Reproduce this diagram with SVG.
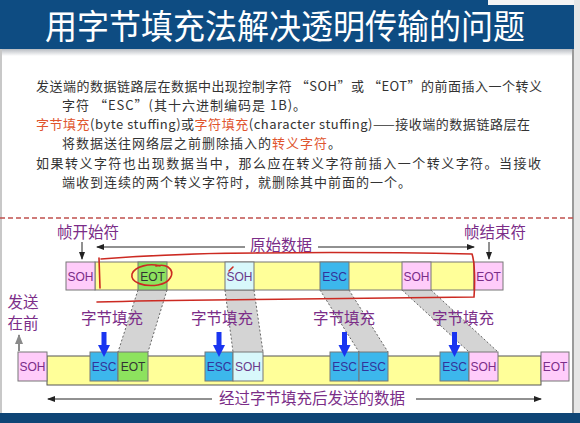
<svg xmlns="http://www.w3.org/2000/svg" width="580" height="423" viewBox="0 0 580 423">
<defs>
<linearGradient id="shadow" x1="0" y1="0" x2="0" y2="1">
<stop offset="0" stop-color="#b8bcc2"/>
<stop offset="1" stop-color="#ffffff"/>
</linearGradient>
<marker id="ah" markerWidth="8" markerHeight="6" refX="7" refY="3" orient="auto" markerUnits="userSpaceOnUse">
<path d="M0,0 L8,3 L0,6 Z" fill="#222"/>
</marker>
<marker id="ahg" markerWidth="10" markerHeight="8" refX="9" refY="4" orient="auto" markerUnits="userSpaceOnUse">
<path d="M0,0 L10,4 L0,8 Z" fill="#8a8a8a"/>
</marker>
</defs>
<style>
.cn{font-family:"Noto Sans CJK SC","Noto Sans",sans-serif}
.para{font-size:13px;fill:#333}
.hl{fill:#e0552e}
.lbl{font-family:"Noto Sans CJK SC",sans-serif;font-size:15.5px;fill:#7b2d88}
.bx{stroke:#777;stroke-width:1}
.bt{font-family:"Liberation Sans",Arial,sans-serif;font-size:12px;text-anchor:middle}
.pink{fill:#ffccfa}
.yel{fill:#ffff99}
.grn{fill:#8de25e}
.esc{fill:#3cb7ec}
.cyan{fill:#d8f8fb}
.band{fill:#d4d4d4}
.dot{stroke:#666;stroke-width:1;stroke-dasharray:2 2;fill:none}
.thin{stroke:#222;stroke-width:1;fill:none}
.red{stroke:#cc2a22;stroke-width:1.6;fill:none;stroke-linecap:round}
.blue{fill:#1a35f0}
</style>

<!-- slide background -->
<rect x="0" y="0" width="580" height="423" fill="#ffffff"/>
<rect x="0" y="0" width="580" height="49" fill="#0e4c82"/>
<rect x="0" y="49" width="580" height="7" fill="url(#shadow)"/>
<rect x="488" y="0" width="92" height="5" fill="#f4f4f4"/>
<rect x="0" y="413" width="580" height="10" fill="#0e4575"/>
<rect x="0" y="49" width="2" height="364" fill="#c8c8c8"/>
<rect x="572" y="49" width="2" height="364" fill="#9a9a9a"/>
<rect x="574" y="0" width="6" height="413" fill="#e6e6e6"/>

<g id="title">
<text x="285" y="39" text-anchor="middle" class="cn" font-size="34" fill="#ffffff" textLength="480" lengthAdjust="spacingAndGlyphs">用字节填充法解决透明传输的问题</text>
</g>

<g id="paragraphs" class="cn para">
<text x="36" y="90.5" textLength="506" lengthAdjust="spacing">发送端的数据链路层在数据中出现控制字符 “SOH”或 “EOT”的前面插入一个转义</text>
<text x="62" y="109.5" letter-spacing="1">字符 “ESC”(其十六进制编码是 1B)。</text>
<text x="36" y="128.5" textLength="494" lengthAdjust="spacing"><tspan class="hl">字节填充</tspan>(byte stuffing)或<tspan class="hl">字符填充</tspan>(character stuffing)——接收端的数据链路层在</text>
<text x="62" y="147.5" letter-spacing="1">将数据送往网络层之前删除插入的<tspan class="hl">转义字符</tspan>。</text>
<text x="36" y="167.5" textLength="505" lengthAdjust="spacing">如果转义字符也出现数据当中，那么应在转义字符前插入一个转义字符。当接收</text>
<text x="62" y="186.5" letter-spacing="1">端收到连续的两个转义字符时，就删除其中前面的一个。</text>
</g>

<line x1="0" y1="218" x2="574" y2="218" stroke="#c0504d" stroke-width="1.3" stroke-dasharray="5 3"/>

<!-- connectors: gray bands, label arrows -->
<g id="connectors">
<polygon class="band" points="138,290 167,290 148,352 118,352"/>
<line class="dot" x1="138" y1="290" x2="118" y2="352"/>
<line class="dot" x1="167" y1="290" x2="148" y2="352"/>
<polygon class="band" points="225,290 254,290 263,352 233,352"/>
<line class="dot" x1="225" y1="290" x2="233" y2="352"/>
<line class="dot" x1="254" y1="290" x2="263" y2="352"/>
<polygon class="band" points="320,290 349,290 388,352 359,352"/>
<line class="dot" x1="320" y1="290" x2="359" y2="352"/>
<line class="dot" x1="349" y1="290" x2="388" y2="352"/>
<polygon class="band" points="402,290 431,290 498,352 469,352"/>
<line class="dot" x1="402" y1="290" x2="469" y2="352"/>
<line class="dot" x1="431" y1="290" x2="498" y2="352"/>

<line class="thin" x1="82" y1="242" x2="82" y2="259" marker-end="url(#ah)"/>
<line class="thin" x1="489" y1="242" x2="489" y2="259" marker-end="url(#ah)"/>
<line class="thin" x1="245" y1="247" x2="97" y2="247" marker-end="url(#ah)"/>
<line class="thin" x1="318" y1="247" x2="474" y2="247" marker-end="url(#ah)"/>
<line class="thin" x1="212" y1="399" x2="48" y2="399" marker-end="url(#ah)"/>
<line class="thin" x1="416" y1="399" x2="541" y2="399" marker-end="url(#ah)"/>
<line x1="19" y1="351" x2="19" y2="335" stroke="#8a8a8a" stroke-width="2" marker-end="url(#ahg)"/>
</g>

<g id="labels">
<text x="88" y="237.5" text-anchor="middle" class="lbl">帧开始符</text>
<text x="495" y="237.5" text-anchor="middle" class="lbl">帧结束符</text>
<text x="281" y="250.5" text-anchor="middle" class="lbl">原始数据</text>
<text x="312" y="404" text-anchor="middle" class="lbl" font-size="16">经过字节填充后发送的数据</text>
<text x="23" y="308" text-anchor="middle" class="lbl">发送</text>
<text x="23" y="329" text-anchor="middle" class="lbl">在前</text>
<text x="112" y="323.5" text-anchor="middle" class="lbl">字节填充</text>
<text x="222" y="323.5" text-anchor="middle" class="lbl">字节填充</text>
<text x="344" y="323.5" text-anchor="middle" class="lbl">字节填充</text>
<text x="463" y="323.5" text-anchor="middle" class="lbl">字节填充</text>
</g>

<!-- original frame -->
<g id="frame-original">
<rect class="bx yel" x="95" y="262" width="379" height="28"/>
<g id="o-soh"><rect class="bx pink" x="66" y="262" width="29" height="28"/><text class="bt" x="80.5" y="280.5" fill="#7b2d88">SOH</text></g>
<g id="o-eot1"><rect class="bx grn" x="138" y="262" width="29" height="28"/><text class="bt" x="152.5" y="280.5" fill="#333">EOT</text></g>
<g id="o-soh1"><rect class="bx cyan" x="225" y="262" width="29" height="28"/><text class="bt" x="239.5" y="280.5" fill="#6a3a8a">SOH</text></g>
<g id="o-esc1"><rect class="bx esc" x="320" y="262" width="29" height="28"/><text class="bt" x="334.5" y="280.5" fill="#33339a">ESC</text></g>
<g id="o-soh2"><rect class="bx pink" x="402" y="262" width="29" height="28"/><text class="bt" x="416.5" y="280.5" fill="#7b2d88">SOH</text></g>
<g id="o-eot"><rect class="bx pink" x="474" y="262" width="29" height="28"/><text class="bt" x="488.5" y="280.5" fill="#7b2d88">EOT</text></g>
</g>

<!-- stuffed frame -->
<g id="frame-stuffed">
<rect x="47" y="356" width="494" height="29" fill="#ffff99" stroke="#555" stroke-width="1"/>
<g id="s-soh"><rect class="bx pink" x="18" y="352" width="29" height="29"/><text class="bt" x="32.5" y="371" fill="#7b2d88">SOH</text></g>
<g id="s-esc1"><rect class="bx esc" x="90" y="352" width="28" height="29"/><text class="bt" x="104" y="371" fill="#33339a">ESC</text></g>
<g id="s-eot1"><rect class="bx grn" x="118" y="352" width="30" height="29"/><text class="bt" x="133" y="371" fill="#333">EOT</text></g>
<g id="s-esc2"><rect class="bx esc" x="205" y="352" width="28" height="29"/><text class="bt" x="219" y="371" fill="#33339a">ESC</text></g>
<g id="s-soh1"><rect class="bx cyan" x="233" y="352" width="30" height="29"/><text class="bt" x="248" y="371" fill="#6a3a8a">SOH</text></g>
<g id="s-esc3"><rect class="bx esc" x="330" y="352" width="29" height="29"/><text class="bt" x="344.5" y="371" fill="#33339a">ESC</text></g>
<g id="s-esc4"><rect class="bx esc" x="359" y="352" width="29" height="29"/><text class="bt" x="373.5" y="371" fill="#33339a">ESC</text></g>
<g id="s-esc5"><rect class="bx esc" x="440" y="352" width="29" height="29"/><text class="bt" x="454.5" y="371" fill="#33339a">ESC</text></g>
<g id="s-soh2"><rect class="bx pink" x="469" y="352" width="29" height="29"/><text class="bt" x="483.5" y="371" fill="#7b2d88">SOH</text></g>
<g id="s-eot"><rect class="bx pink" x="541" y="352" width="28" height="29"/><text class="bt" x="555" y="371" fill="#7b2d88">EOT</text></g>
</g>

<!-- blue insertion arrows -->
<g id="insert-arrows">
<g id="ia1"><rect class="blue" x="101.5" y="332" width="5" height="14"/><polygon class="blue" points="98,345 110,345 104,357"/></g>
<g id="ia2"><rect class="blue" x="216.5" y="332" width="5" height="14"/><polygon class="blue" points="213,345 225,345 219,357"/></g>
<g id="ia3"><rect class="blue" x="342" y="332" width="5" height="14"/><polygon class="blue" points="338.5,345 350.5,345 344.5,357"/></g>
<g id="ia4"><rect class="blue" x="452" y="332" width="5" height="14"/><polygon class="blue" points="448.5,345 460.5,345 454.5,357"/></g>
</g>

<!-- red hand annotations -->
<g id="annotations">
<path class="red" d="M99,258 L100,288"/>
<path class="red" d="M101,259 C140,256 200,253 260,253 C340,252 420,253 472,254 C475,262 475,285 474,297 C420,298 360,298 300,299 C220,300 160,300 97,302"/>
<path class="red" d="M160,266 C150,263 135,266 132,274 C130,283 145,287 158,285 C170,283 176,273 168,267 C165,265 160,265 156,266"/>
<path class="red" d="M229,271 L233,267"/>
</g>
</svg>
